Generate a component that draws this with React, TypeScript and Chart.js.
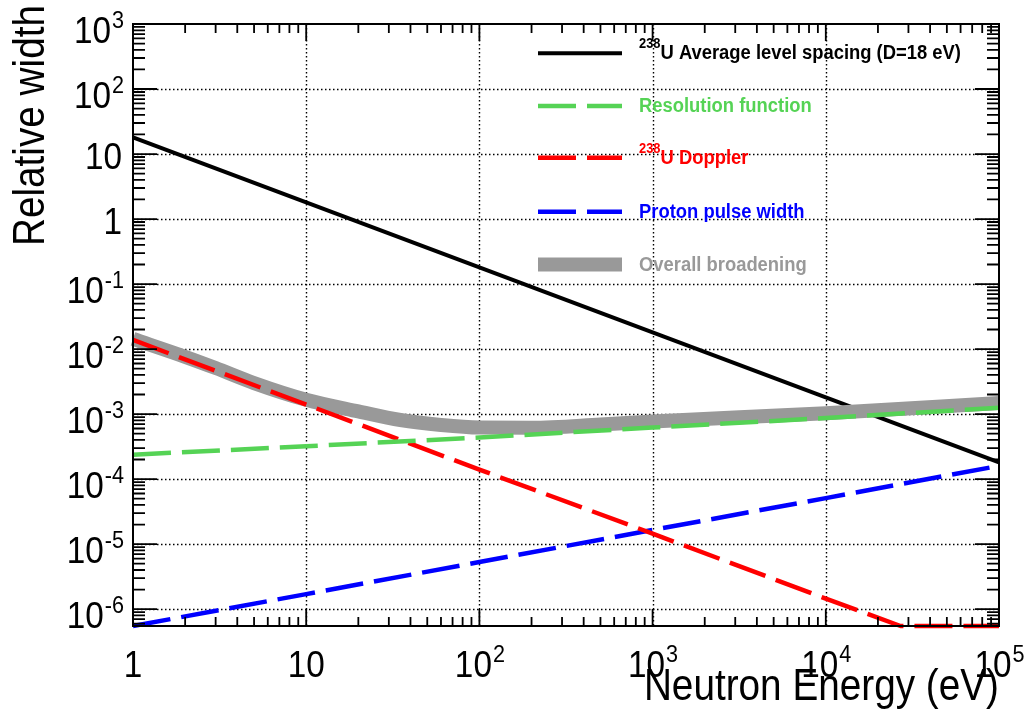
import React, { useEffect, useRef } from 'react';
import { Chart, registerables } from 'chart.js';

Chart.register(...registerables);

// Neutron energy grid (eV) and the broadening contributions, relative to E
const energyE = [1, 10, 100, 1000, 10000, 100000];
const levelSpacing = [18, 1.8, 0.18, 0.018, 1.8e-3, 1.8e-4];
const resolution = [2.37e-4, 3.2e-4, 4.37e-4, 6.2e-4, 8.7e-4, 1.25e-3];
const protonPulse = [5.5e-7, 1.7e-6, 5.3e-6, 1.65e-5, 5.1e-5, 1.6e-4];
const dopplerE = [1, 10, 100, 1000, 10000, 27000, 100000];
const doppler = [1.38e-2, 1.4e-3, 1.4e-4, 1.45e-5, 1.45e-6, 5.5e-7, 5.5e-7];
const overallE = [1, 2, 3, 5, 10, 20, 35, 60, 100, 200, 500, 1000, 10000, 100000];
const overall = [1.43e-2, 7.6e-3, 5.1e-3, 3.0e-3, 1.66e-3, 1.1e-3, 8.1e-4, 6.8e-4, 6.2e-4, 6.15e-4, 6.9e-4, 7.7e-4, 1.03e-3, 1.48e-3];

// Axis ranges and decade labels
const xRange = [1, 1e5];
const yRange = [5.5e-7, 1e3];
const xDecades = [0, 1, 2, 3, 4, 5];
const yDecades = [-6, -5, -4, -3, -2, -1, 0, 1, 2, 3];
const xTitle = 'Neutron Energy (eV)';
const yTitle = 'Relative width';

// Legend entries (superscript prefix + text)
const legendSup = ['238', '', '238', '', ''];
const legendText = ['U Average level spacing (D=18 eV)', 'Resolution function', 'U Doppler', 'Proton pulse width', 'Overall broadening'];

const BLACK = '#000000';
const GREEN = '#55d355';
const RED = '#ff0000';
const BLUE = '#0000ff';
const GRAY = '#999999';
const DASH = [38, 11];
const FONT = '"Liberation Sans", Arial, Helvetica, sans-serif';

const pts = (xs: number[], ys: number[]) => xs.map((x, i) => ({ x, y: ys[i] }));

function textWidth(ctx: CanvasRenderingContext2D, s: string, font: string, sx: number) {
  ctx.font = font;
  return ctx.measureText(s).width * sx;
}

function put(ctx: CanvasRenderingContext2D, s: string, x: number, y: number, font: string, sx: number, color: string) {
  ctx.save();
  ctx.font = font;
  ctx.fillStyle = color;
  ctx.textAlign = 'left';
  ctx.textBaseline = 'alphabetic';
  ctx.translate(x, y);
  ctx.scale(sx, 1);
  ctx.fillText(s, 0, 0);
  ctx.restore();
}

const tickFont = `37px ${FONT}`;
const supFont = `24px ${FONT}`;
const tickSx = 0.9;

function decadeLabel(n: number): [string, string] {
  if (n === 0) return ['1', ''];
  if (n === 1) return ['10', ''];
  return ['10', String(n)];
}

const framePlugin = {
  id: 'rootFrame',
  beforeDatasetsDraw(chart: any) {
    const { ctx, chartArea: a, scales } = chart;
    const xs = scales.x;
    const ys = scales.y;
    ctx.save();
    ctx.strokeStyle = '#000';
    ctx.lineWidth = 1.4;
    ctx.setLineDash([1.5, 2.5]);
    xDecades.forEach((d) => {
      const v = Math.pow(10, d);
      if (v <= xRange[0] || v >= xRange[1]) return;
      const px = Math.round(xs.getPixelForValue(v)) + 0.5;
      ctx.beginPath();
      ctx.moveTo(px, a.top);
      ctx.lineTo(px, a.bottom);
      ctx.stroke();
    });
    yDecades.forEach((d) => {
      const v = Math.pow(10, d);
      if (v <= yRange[0] || v >= yRange[1]) return;
      const py = Math.round(ys.getPixelForValue(v)) + 0.5;
      ctx.beginPath();
      ctx.moveTo(a.left, py);
      ctx.lineTo(a.right, py);
      ctx.stroke();
    });
    ctx.restore();
  },
  afterDatasetsDraw(chart: any) {
    const { ctx, chartArea: a, scales } = chart;
    const xs = scales.x;
    const ys = scales.y;
    ctx.save();
    ctx.setLineDash([]);
    ctx.strokeStyle = '#000';

    // tick marks, drawn inward on all four sides
    ctx.lineWidth = 1.8;
    const xTick = (v: number, len: number) => {
      const px = xs.getPixelForValue(v);
      ctx.beginPath();
      ctx.moveTo(px, a.bottom);
      ctx.lineTo(px, a.bottom - len);
      ctx.moveTo(px, a.top);
      ctx.lineTo(px, a.top + len);
      ctx.stroke();
    };
    const yTick = (v: number, len: number) => {
      const py = ys.getPixelForValue(v);
      ctx.beginPath();
      ctx.moveTo(a.left, py);
      ctx.lineTo(a.left + len, py);
      ctx.moveTo(a.right, py);
      ctx.lineTo(a.right - len, py);
      ctx.stroke();
    };
    for (let d = 0; d <= 5; d++) {
      const base = Math.pow(10, d);
      xTick(base, 17);
      if (d < 5) for (let m = 2; m <= 9; m++) xTick(m * base, 9);
    }
    for (let d = -7; d <= 3; d++) {
      const base = Math.pow(10, d);
      if (base >= yRange[0] && base <= yRange[1]) yTick(base, 24);
      for (let m = 2; m <= 9; m++) {
        const v = m * base;
        if (v > yRange[0] && v < yRange[1]) yTick(v, 12);
      }
    }

    // frame
    ctx.lineWidth = 2;
    ctx.strokeRect(a.left, a.top, a.right - a.left, a.bottom - a.top);

    // x tick labels
    xDecades.forEach((d) => {
      const [b, s] = decadeLabel(d);
      const px = xs.getPixelForValue(Math.pow(10, d));
      const wb = textWidth(ctx, b, tickFont, tickSx);
      const ws = s ? textWidth(ctx, s, supFont, tickSx) : 0;
      const x0 = px - (wb + ws) / 2;
      put(ctx, b, x0, 677, tickFont, tickSx, '#000');
      if (s) put(ctx, s, x0 + wb + 1, 662, supFont, tickSx, '#000');
    });

    // y tick labels, right aligned
    yDecades.forEach((d) => {
      const [b, s] = decadeLabel(d);
      const py = ys.getPixelForValue(Math.pow(10, d));
      const wb = textWidth(ctx, b, tickFont, tickSx);
      const ws = s ? textWidth(ctx, s, supFont, tickSx) : 0;
      const right = 124;
      if (s) {
        const x0 = right - ws - 1 - wb;
        put(ctx, b, x0, py + 19, tickFont, tickSx, '#000');
        put(ctx, s, x0 + wb + 1, py + 4, supFont, tickSx, '#000');
      } else {
        put(ctx, b, right - 2 - wb, py + 15, tickFont, tickSx, '#000');
      }
    });

    // axis titles
    const titleFont = `44px ${FONT}`;
    const titleSx = 0.88;
    const wx = textWidth(ctx, xTitle, titleFont, titleSx);
    put(ctx, xTitle, a.right - wx, 700, titleFont, titleSx, '#000');
    const wy = textWidth(ctx, yTitle, titleFont, titleSx);
    ctx.save();
    ctx.translate(44, 5);
    ctx.rotate(-Math.PI / 2);
    put(ctx, yTitle, -wy, 0, titleFont, titleSx, '#000');
    ctx.restore();

    // legend
    const rowsY = [53.3, 106, 157.7, 211.7, 264.5];
    const lx0 = 538;
    const lx1 = 622;
    const tx = 639;
    const legFont = `bold 20px ${FONT}`;
    const legSupFont = `bold 14px ${FONT}`;
    const legSx = 0.92;
    const ds = chart.data.datasets;
    const dsOrder = [4, 0, 1, 2, 3];
    rowsY.forEach((ry, i) => {
      const set = ds[dsOrder[i]];
      const color = set.borderColor;
      if (i === 4) {
        ctx.fillStyle = color;
        ctx.fillRect(lx0, ry - 7, lx1 - lx0, 14);
      } else {
        ctx.save();
        ctx.strokeStyle = color;
        ctx.lineWidth = set.borderWidth;
        ctx.lineCap = 'butt';
        ctx.setLineDash(set.borderDash || []);
        ctx.beginPath();
        ctx.moveTo(lx0, ry);
        ctx.lineTo(lx1, ry);
        ctx.stroke();
        ctx.restore();
      }
      let x = tx;
      const base = ry + 6;
      if (legendSup[i]) {
        put(ctx, legendSup[i], x, base - 11, legSupFont, legSx, color);
        x += textWidth(ctx, legendSup[i], legSupFont, legSx);
      }
      put(ctx, legendText[i], x, base, legFont, legSx, color);
    });
    ctx.restore();
  },
};

export default function App() {
  const ref = useRef<HTMLCanvasElement>(null);

  useEffect(() => {
    if (!ref.current) return;
    const chart = new Chart(ref.current, {
      type: 'line',
      data: {
        datasets: [
          {
            label: 'Resolution function',
            data: pts(energyE, resolution),
            borderColor: GREEN,
            borderWidth: 4.5,
            borderDash: DASH,
            order: 0,
          },
          {
            label: 'Doppler',
            data: pts(dopplerE, doppler),
            borderColor: RED,
            borderWidth: 4.5,
            borderDash: DASH,
            order: 1,
          },
          {
            label: 'Proton pulse width',
            data: pts(energyE, protonPulse),
            borderColor: BLUE,
            borderWidth: 4.5,
            borderDash: DASH,
            order: 2,
          },
          {
            label: 'Overall broadening',
            data: pts(overallE, overall),
            borderColor: GRAY,
            borderWidth: 14,
            cubicInterpolationMode: 'monotone',
            order: 3,
          },
          {
            label: 'Average level spacing',
            data: pts(energyE, levelSpacing),
            borderColor: BLACK,
            borderWidth: 4,
            order: 4,
          },
        ] as any,
      },
      options: {
        animation: false,
        responsive: false,
        devicePixelRatio: 1,
        events: [],
        layout: { padding: { left: 133, right: 32, top: 24, bottom: 94 } },
        elements: {
          point: { radius: 0 },
          line: { borderCapStyle: 'butt', borderJoinStyle: 'round', fill: false },
        },
        datasets: { line: { clip: false as any } },
        scales: {
          x: { type: 'logarithmic', min: xRange[0], max: xRange[1], display: false },
          y: { type: 'logarithmic', min: yRange[0], max: yRange[1], display: false },
        },
        plugins: {
          legend: { display: false },
          tooltip: { enabled: false },
        },
      },
      plugins: [framePlugin],
    });
    return () => chart.destroy();
  }, []);

  return (
    <div style={{ position: 'absolute', left: 0, top: 0, width: 1031, height: 720, background: '#fff' }}>
      <canvas ref={ref} width={1031} height={720} style={{ display: 'block' }} />
    </div>
  );
}
